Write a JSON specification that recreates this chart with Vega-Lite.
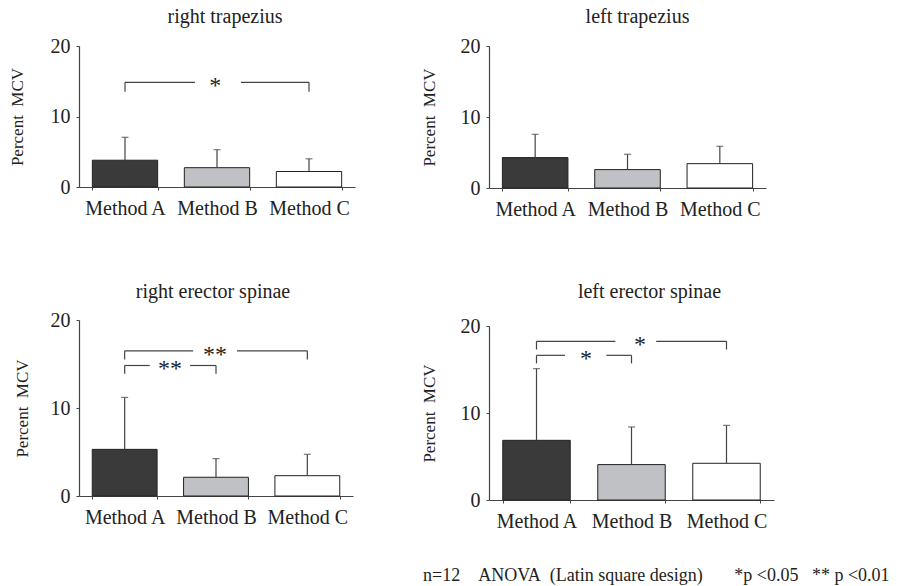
{
  "$schema": "https://vega.github.io/schema/vega-lite/v6.json",
  "padding": {"left": 8, "top": 7, "right": 5, "bottom": 5},
  "background": "white",
  "datasets": {
    "bars": [
      {"muscle": "right trapezius", "method": "Method A", "mean": 3.8, "upper": 7.05},
      {"muscle": "right trapezius", "method": "Method B", "mean": 2.74, "upper": 5.3},
      {"muscle": "right trapezius", "method": "Method C", "mean": 2.2, "upper": 4.0},
      {"muscle": "left trapezius", "method": "Method A", "mean": 4.28, "upper": 7.56},
      {"muscle": "left trapezius", "method": "Method B", "mean": 2.59, "upper": 4.75},
      {"muscle": "left trapezius", "method": "Method C", "mean": 3.43, "upper": 5.87},
      {"muscle": "right erector spinae", "method": "Method A", "mean": 5.3, "upper": 11.2},
      {"muscle": "right erector spinae", "method": "Method B", "mean": 2.13, "upper": 4.25},
      {"muscle": "right erector spinae", "method": "Method C", "mean": 2.31, "upper": 4.74},
      {"muscle": "left erector spinae", "method": "Method A", "mean": 6.86, "upper": 15.1},
      {"muscle": "left erector spinae", "method": "Method B", "mean": 4.07, "upper": 8.39},
      {"muscle": "left erector spinae", "method": "Method C", "mean": 4.22, "upper": 8.58}
    ],
    "brackets": [
      {"muscle": "right trapezius", "from": 0.5, "to": 2.5, "y": 14.85, "drop": 13.5, "gapL": 1.26, "gapR": 1.76, "starX": 1.48, "label": "*"},
      {"muscle": "right erector spinae", "from": 0.5, "to": 2.5, "y": 16.5, "drop": 15.5, "gapL": 1.25, "gapR": 1.73, "starX": 1.49, "label": "**"},
      {"muscle": "right erector spinae", "from": 0.5, "to": 1.5, "y": 14.83, "drop": 13.9, "gapL": 0.775, "gapR": 1.216, "starX": 0.996, "label": "**"},
      {"muscle": "left erector spinae", "from": 0.5, "to": 2.5, "y": 18.24, "drop": 17.3, "gapL": 1.33, "gapR": 1.76, "starX": 1.59, "label": "*"},
      {"muscle": "left erector spinae", "from": 0.5, "to": 1.5, "y": 16.63, "drop": 15.7, "gapL": 0.8, "gapR": 1.235, "starX": 1.02, "label": "*"}
    ]
  },
  "title": {
    "text": "n=12\u00a0\u00a0\u00a0\u00a0ANOVA\u00a0\u00a0(Latin square design)\u00a0\u00a0\u00a0\u00a0\u00a0\u00a0\u00a0*p\u00a0<0.05\u00a0\u00a0\u00a0**\u00a0p\u00a0<0.01",
    "orient": "bottom", "anchor": "start", "frame": "group", "dx": 344, "offset": 36,
    "fontSize": 18, "fontWeight": "normal", "font": "Liberation Serif, Times New Roman, serif", "color": "#222"
  },
  "columns": 2,
  "align": "none",
  "spacing": {"row": 63, "column": 65},
  "concat": [
    {
      "width": 276, "height": 141,
      "title": {"text": "right trapezius", "frame": "group", "offset": -7, "dx": 8, "baseline": "alphabetic"},
      "layer": [
        {
          "data": {"name": "bars"},
          "transform": [{"filter": "datum.muscle === 'right trapezius'"}],
          "encoding": {
            "x": {"field": "method", "type": "nominal", "sort": null, "scale": {"paddingInner": 0.29, "paddingOuter": 0.145}},
            "y": {"field": "mean", "type": "quantitative", "scale": {"domain": [0, 20], "nice": false}, "axis": {"title": "Percent\u00a0\u00a0MCV", "values": [0, 10, 20], "titlePadding": 24}}
          },
          "layer": [
            {"mark": {"type": "bar", "stroke": "#222", "strokeWidth": 1}, "encoding": {"fill": {"field": "method", "type": "nominal", "scale": {"domain": ["Method A", "Method B", "Method C"], "range": ["#3a3a3a", "#c0c1c4", "#ffffff"]}, "legend": null}}},
            {"mark": {"type": "rule", "color": "#444", "strokeWidth": 1.2}, "encoding": {"y2": {"field": "upper"}}},
            {"mark": {"type": "tick", "color": "#444", "thickness": 1.2, "size": 7}, "encoding": {"y": {"field": "upper", "type": "quantitative", "title": "Percent\u00a0\u00a0MCV"}}}
          ]
        },
        {
          "data": {"name": "brackets"},
          "transform": [{"filter": "datum.muscle === 'right trapezius'"}],
          "layer": [
            {"mark": {"type": "rule", "color": "#444", "strokeWidth": 1.2}, "encoding": {"x": {"field": "from", "type": "quantitative", "scale": {"domain": [0, 3], "nice": false, "zero": false}, "axis": null}, "y": {"field": "y", "type": "quantitative", "title": "Percent\u00a0\u00a0MCV"}, "y2": {"field": "drop"}}},
            {"mark": {"type": "rule", "color": "#444", "strokeWidth": 1.2}, "encoding": {"x": {"field": "to", "type": "quantitative", "scale": {"domain": [0, 3], "nice": false, "zero": false}, "axis": null}, "y": {"field": "y", "type": "quantitative", "title": "Percent\u00a0\u00a0MCV"}, "y2": {"field": "drop"}}},
            {"mark": {"type": "rule", "color": "#444", "strokeWidth": 1.2}, "encoding": {"x": {"field": "from", "type": "quantitative", "scale": {"domain": [0, 3], "nice": false, "zero": false}, "axis": null}, "x2": {"field": "gapL"}, "y": {"field": "y", "type": "quantitative", "title": "Percent\u00a0\u00a0MCV"}}},
            {"mark": {"type": "rule", "color": "#444", "strokeWidth": 1.2}, "encoding": {"x": {"field": "gapR", "type": "quantitative", "scale": {"domain": [0, 3], "nice": false, "zero": false}, "axis": null}, "x2": {"field": "to"}, "y": {"field": "y", "type": "quantitative", "title": "Percent\u00a0\u00a0MCV"}}},
            {"mark": {"type": "text", "fontSize": 24, "baseline": "alphabetic", "dy": 11, "color": "#222", "font": "Liberation Serif, Times New Roman, serif"}, "encoding": {"x": {"field": "starX", "type": "quantitative", "scale": {"domain": [0, 3], "nice": false, "zero": false}, "axis": null}, "y": {"field": "y", "type": "quantitative", "title": "Percent\u00a0\u00a0MCV"}, "text": {"field": "label"}}}
          ]
        }
      ],
      "resolve": {"scale": {"x": "independent"}}
    },
    {
      "width": 277, "height": 142,
      "title": {"text": "left trapezius", "frame": "group", "offset": -7, "dx": 10, "baseline": "alphabetic"},
      "layer": [
        {
          "data": {"name": "bars"},
          "transform": [{"filter": "datum.muscle === 'left trapezius'"}],
          "encoding": {
            "x": {"field": "method", "type": "nominal", "sort": null, "scale": {"paddingInner": 0.29, "paddingOuter": 0.145}},
            "y": {"field": "mean", "type": "quantitative", "scale": {"domain": [0, 20], "nice": false}, "axis": {"title": "Percent\u00a0\u00a0MCV", "values": [0, 10, 20]}}
          },
          "layer": [
            {"mark": {"type": "bar", "stroke": "#222", "strokeWidth": 1}, "encoding": {"fill": {"field": "method", "type": "nominal", "scale": {"domain": ["Method A", "Method B", "Method C"], "range": ["#3a3a3a", "#c0c1c4", "#ffffff"]}, "legend": null}}},
            {"mark": {"type": "rule", "color": "#444", "strokeWidth": 1.2}, "encoding": {"y2": {"field": "upper"}}},
            {"mark": {"type": "tick", "color": "#444", "thickness": 1.2, "size": 7}, "encoding": {"y": {"field": "upper", "type": "quantitative", "title": "Percent\u00a0\u00a0MCV"}}}
          ]
        }
      ]
    },
    {
      "width": 274, "height": 176,
      "title": {"text": "right erector spinae", "frame": "group", "offset": -8, "dx": -3, "baseline": "alphabetic"},
      "layer": [
        {
          "data": {"name": "bars"},
          "transform": [{"filter": "datum.muscle === 'right erector spinae'"}],
          "encoding": {
            "x": {"field": "method", "type": "nominal", "sort": null, "scale": {"paddingInner": 0.29, "paddingOuter": 0.145}},
            "y": {"field": "mean", "type": "quantitative", "scale": {"domain": [0, 20], "nice": false}, "axis": {"title": "Percent\u00a0\u00a0MCV", "values": [0, 10, 20], "titlePadding": 19}}
          },
          "layer": [
            {"mark": {"type": "bar", "stroke": "#222", "strokeWidth": 1}, "encoding": {"fill": {"field": "method", "type": "nominal", "scale": {"domain": ["Method A", "Method B", "Method C"], "range": ["#3a3a3a", "#c0c1c4", "#ffffff"]}, "legend": null}}},
            {"mark": {"type": "rule", "color": "#444", "strokeWidth": 1.2}, "encoding": {"y2": {"field": "upper"}}},
            {"mark": {"type": "tick", "color": "#444", "thickness": 1.2, "size": 7}, "encoding": {"y": {"field": "upper", "type": "quantitative", "title": "Percent\u00a0\u00a0MCV"}}}
          ]
        },
        {
          "data": {"name": "brackets"},
          "transform": [{"filter": "datum.muscle === 'right erector spinae'"}],
          "layer": [
            {"mark": {"type": "rule", "color": "#444", "strokeWidth": 1.2}, "encoding": {"x": {"field": "from", "type": "quantitative", "scale": {"domain": [0, 3], "nice": false, "zero": false}, "axis": null}, "y": {"field": "y", "type": "quantitative", "title": "Percent\u00a0\u00a0MCV"}, "y2": {"field": "drop"}}},
            {"mark": {"type": "rule", "color": "#444", "strokeWidth": 1.2}, "encoding": {"x": {"field": "to", "type": "quantitative", "scale": {"domain": [0, 3], "nice": false, "zero": false}, "axis": null}, "y": {"field": "y", "type": "quantitative", "title": "Percent\u00a0\u00a0MCV"}, "y2": {"field": "drop"}}},
            {"mark": {"type": "rule", "color": "#444", "strokeWidth": 1.2}, "encoding": {"x": {"field": "from", "type": "quantitative", "scale": {"domain": [0, 3], "nice": false, "zero": false}, "axis": null}, "x2": {"field": "gapL"}, "y": {"field": "y", "type": "quantitative", "title": "Percent\u00a0\u00a0MCV"}}},
            {"mark": {"type": "rule", "color": "#444", "strokeWidth": 1.2}, "encoding": {"x": {"field": "gapR", "type": "quantitative", "scale": {"domain": [0, 3], "nice": false, "zero": false}, "axis": null}, "x2": {"field": "to"}, "y": {"field": "y", "type": "quantitative", "title": "Percent\u00a0\u00a0MCV"}}},
            {"mark": {"type": "text", "fontSize": 24, "baseline": "alphabetic", "dy": 11, "color": "#222", "font": "Liberation Serif, Times New Roman, serif"}, "encoding": {"x": {"field": "starX", "type": "quantitative", "scale": {"domain": [0, 3], "nice": false, "zero": false}, "axis": null}, "y": {"field": "y", "type": "quantitative", "title": "Percent\u00a0\u00a0MCV"}, "text": {"field": "label"}}}
          ]
        }
      ],
      "resolve": {"scale": {"x": "independent"}}
    },
    {
      "width": 285, "height": 174,
      "title": {"text": "left erector spinae", "frame": "group", "offset": -2, "dx": 18, "baseline": "alphabetic"},
      "layer": [
        {
          "data": {"name": "bars"},
          "transform": [{"filter": "datum.muscle === 'left erector spinae'"}],
          "encoding": {
            "x": {"field": "method", "type": "nominal", "sort": null, "scale": {"paddingInner": 0.29, "paddingOuter": 0.145}},
            "y": {"field": "mean", "type": "quantitative", "scale": {"domain": [0, 20], "nice": false}, "axis": {"title": "Percent\u00a0\u00a0MCV", "values": [0, 10, 20], "titlePadding": 22}}
          },
          "layer": [
            {"mark": {"type": "bar", "stroke": "#222", "strokeWidth": 1}, "encoding": {"fill": {"field": "method", "type": "nominal", "scale": {"domain": ["Method A", "Method B", "Method C"], "range": ["#3a3a3a", "#c0c1c4", "#ffffff"]}, "legend": null}}},
            {"mark": {"type": "rule", "color": "#444", "strokeWidth": 1.2}, "encoding": {"y2": {"field": "upper"}}},
            {"mark": {"type": "tick", "color": "#444", "thickness": 1.2, "size": 7}, "encoding": {"y": {"field": "upper", "type": "quantitative", "title": "Percent\u00a0\u00a0MCV"}}}
          ]
        },
        {
          "data": {"name": "brackets"},
          "transform": [{"filter": "datum.muscle === 'left erector spinae'"}],
          "layer": [
            {"mark": {"type": "rule", "color": "#444", "strokeWidth": 1.2}, "encoding": {"x": {"field": "from", "type": "quantitative", "scale": {"domain": [0, 3], "nice": false, "zero": false}, "axis": null}, "y": {"field": "y", "type": "quantitative", "title": "Percent\u00a0\u00a0MCV"}, "y2": {"field": "drop"}}},
            {"mark": {"type": "rule", "color": "#444", "strokeWidth": 1.2}, "encoding": {"x": {"field": "to", "type": "quantitative", "scale": {"domain": [0, 3], "nice": false, "zero": false}, "axis": null}, "y": {"field": "y", "type": "quantitative", "title": "Percent\u00a0\u00a0MCV"}, "y2": {"field": "drop"}}},
            {"mark": {"type": "rule", "color": "#444", "strokeWidth": 1.2}, "encoding": {"x": {"field": "from", "type": "quantitative", "scale": {"domain": [0, 3], "nice": false, "zero": false}, "axis": null}, "x2": {"field": "gapL"}, "y": {"field": "y", "type": "quantitative", "title": "Percent\u00a0\u00a0MCV"}}},
            {"mark": {"type": "rule", "color": "#444", "strokeWidth": 1.2}, "encoding": {"x": {"field": "gapR", "type": "quantitative", "scale": {"domain": [0, 3], "nice": false, "zero": false}, "axis": null}, "x2": {"field": "to"}, "y": {"field": "y", "type": "quantitative", "title": "Percent\u00a0\u00a0MCV"}}},
            {"mark": {"type": "text", "fontSize": 24, "baseline": "alphabetic", "dy": 11, "color": "#222", "font": "Liberation Serif, Times New Roman, serif"}, "encoding": {"x": {"field": "starX", "type": "quantitative", "scale": {"domain": [0, 3], "nice": false, "zero": false}, "axis": null}, "y": {"field": "y", "type": "quantitative", "title": "Percent\u00a0\u00a0MCV"}, "text": {"field": "label"}}}
          ]
        }
      ],
      "resolve": {"scale": {"x": "independent"}}
    }
  ],
  "config": {
    "font": "Liberation Serif, Times New Roman, serif",
    "view": {"stroke": null},
    "axis": {
      "labelFont": "Liberation Serif, Times New Roman, serif", "titleFont": "Liberation Serif, Times New Roman, serif",
      "labelFontSize": 20, "labelColor": "#222", "titleColor": "#222",
      "titleFontSize": 17, "titleFontWeight": "normal",
      "domainColor": "#444", "tickColor": "#444", "domainWidth": 1.2, "grid": false
    },
    "axisX": {"title": null, "labelAngle": 0, "tickBand": "extent", "tickSize": 3, "labelPadding": 8},
    "axisY": {"tickSize": 3, "labelPadding": 6, "titlePadding": 22},
    "title": {"fontSize": 20, "fontWeight": "normal", "color": "#222", "font": "Liberation Serif, Times New Roman, serif"}
  }
}
